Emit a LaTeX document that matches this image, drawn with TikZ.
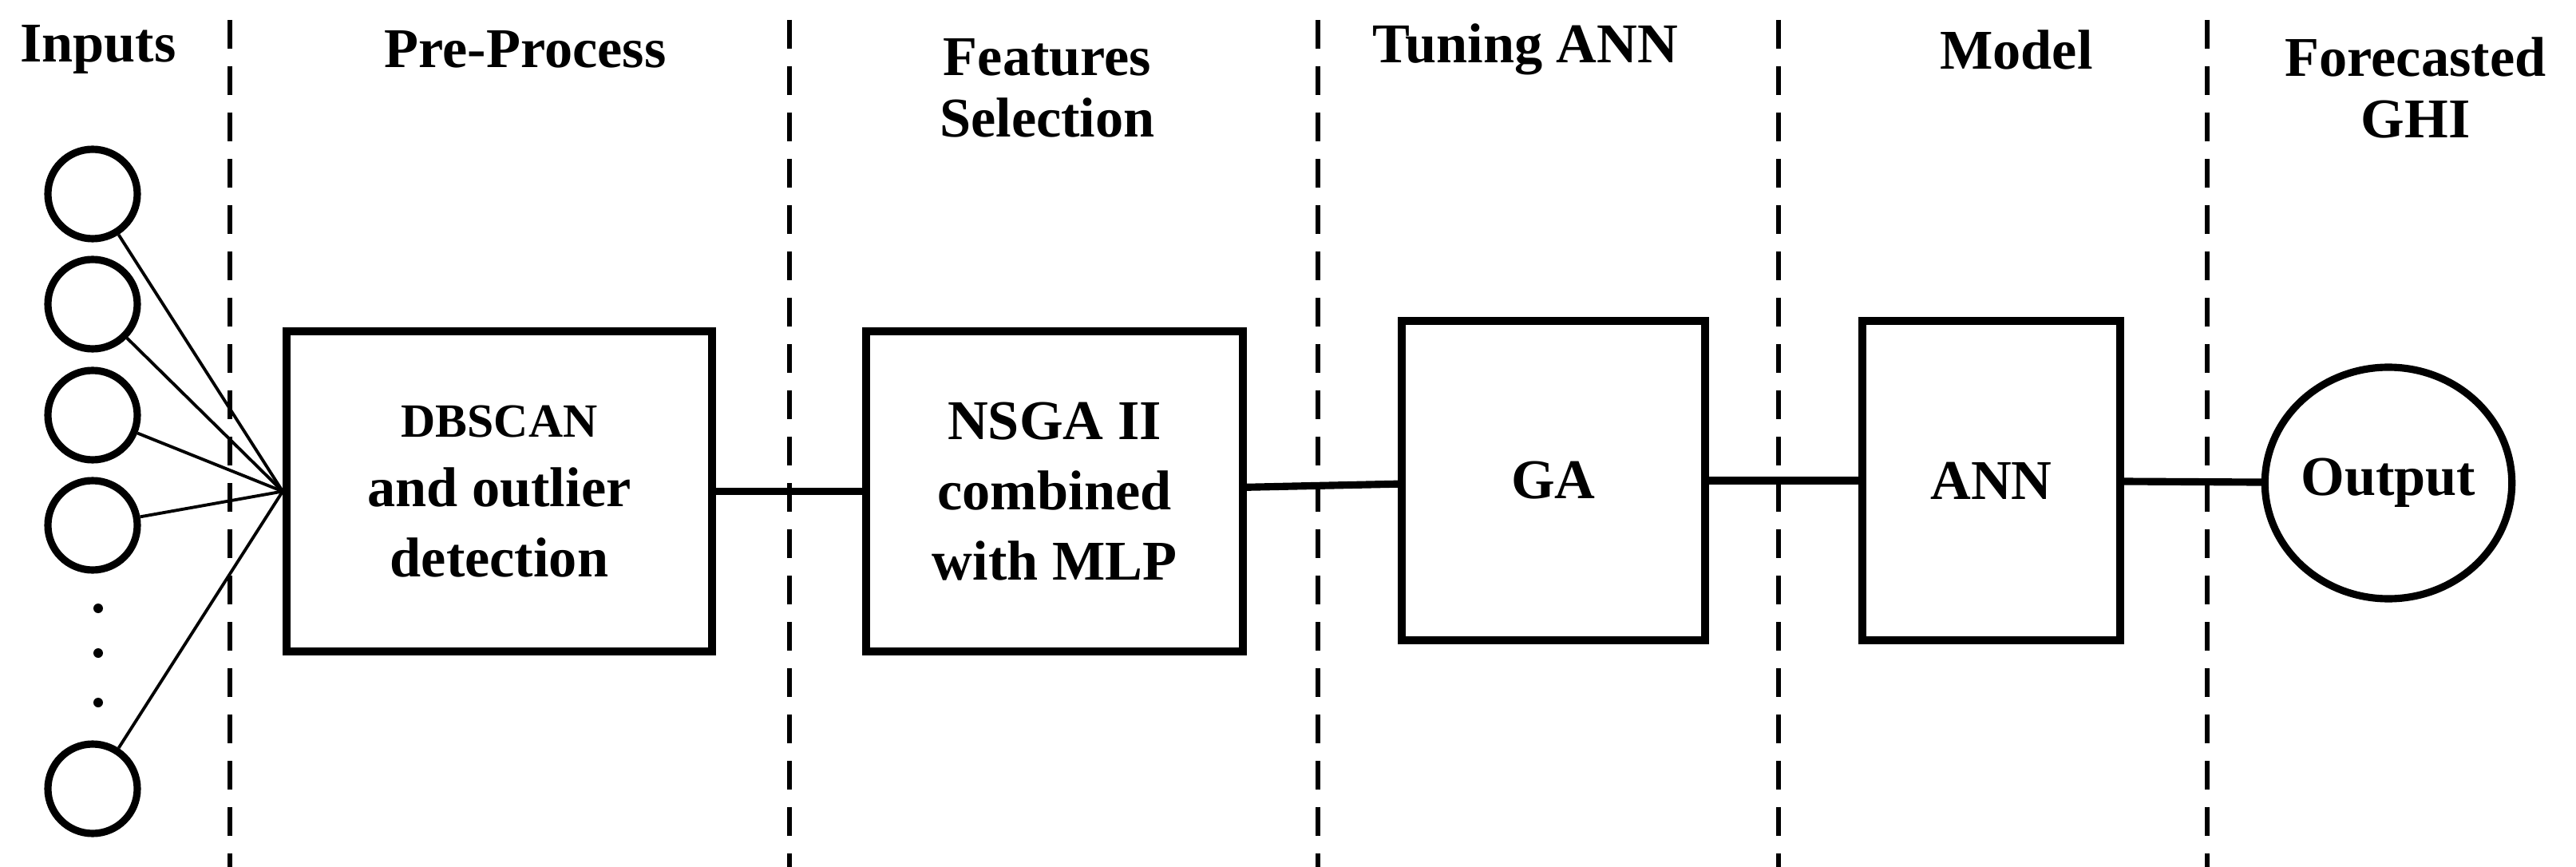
\documentclass[tikz,border=0pt]{standalone}
\usepackage{fontspec}
\setmainfont{Liberation Serif}
\usetikzlibrary{shapes.geometric}
\tikzset{
    head/.style={font=\bfseries\fontsize{20}{22}\selectfont, align=center, inner sep=0pt},
    box/.style={draw, line width=2.8pt, align=center, font=\bfseries\fontsize{20}{25}\selectfont},
    inp/.style={draw, circle, line width=2.6pt, minimum size=1.12cm, inner sep=0pt},
    sep/.style={line width=1.8pt, dash pattern=on 0.36cm off 0.22cm},
    link/.style={line width=2.6pt},
    fan/.style={line width=1.1pt}
}
\begin{document}
\begin{tikzpicture}
        \useasboundingbox (0,0) rectangle (32.27,-10.86);

        %Trennlinien
        \foreach \x in {2.88,9.89,16.51,22.28,27.65}
            \draw[sep] (\x,-0.25) -- (\x,-10.86);

        %Ueberschriften
        \node[head] (hInputs) at (1.23,-0.62) {Inputs};
        \node[head] (hPre) at (6.58,-0.62) {Pre-Process};
        \node[head] (hFeat) at (13.12,-1.1) {Features\\Selection};
        \node[head] (hTune) at (19.11,-0.62) {Tuning ANN};
        \node[head] (hModel) at (25.26,-0.62) {Model};
        \node[head] (hOut) at (30.26,-1.1) {Forecasted\\GHI};

        %Inputs
        \node[inp] (in1) at (1.16,-2.43) {};
        \node[inp] (in2) at (1.16,-3.81) {};
        \node[inp] (in3) at (1.16,-5.20) {};
        \node[inp] (in4) at (1.16,-6.58) {};
        \node[inp] (in5) at (1.16,-9.88) {};
        \foreach \y in {-7.62,-8.18,-8.80}
            \fill (1.23,\y) circle (0.06);

        %Bloecke
        \node[box, minimum width=5.33cm, minimum height=4.01cm] (dbscan) at (6.255,-6.155)
            {{\fontsize{17}{20}\selectfont DBSCAN}\\and outlier\\detection};
        \node[box, minimum width=4.72cm, minimum height=4.01cm] (nsga) at (13.21,-6.155)
            {NSGA II\\combined\\with MLP};
        \node[box, minimum width=3.80cm, minimum height=4.00cm] (ga) at (19.46,-6.02) {GA};
        \node[box, minimum width=3.23cm, minimum height=4.00cm] (ann) at (24.945,-6.02) {ANN};
        \node[draw, ellipse, line width=2.6pt, minimum width=2.7cm, minimum height=2.9cm, inner sep=0pt,
            font=\bfseries\fontsize{20}{22}\selectfont] (out) at (29.92,-6.05) {Output};

        %Verbindungen
        \foreach \i in {in1,in2,in3,in4,in5}
            \draw[fan] (\i) -- (dbscan.west);
        \draw[link] (dbscan) -- (nsga);
        \draw[link] (nsga) -- (ga);
        \draw[link] (ga) -- (ann);
        \draw[link] (ann) -- (out);
    \end{tikzpicture}
\end{document}
